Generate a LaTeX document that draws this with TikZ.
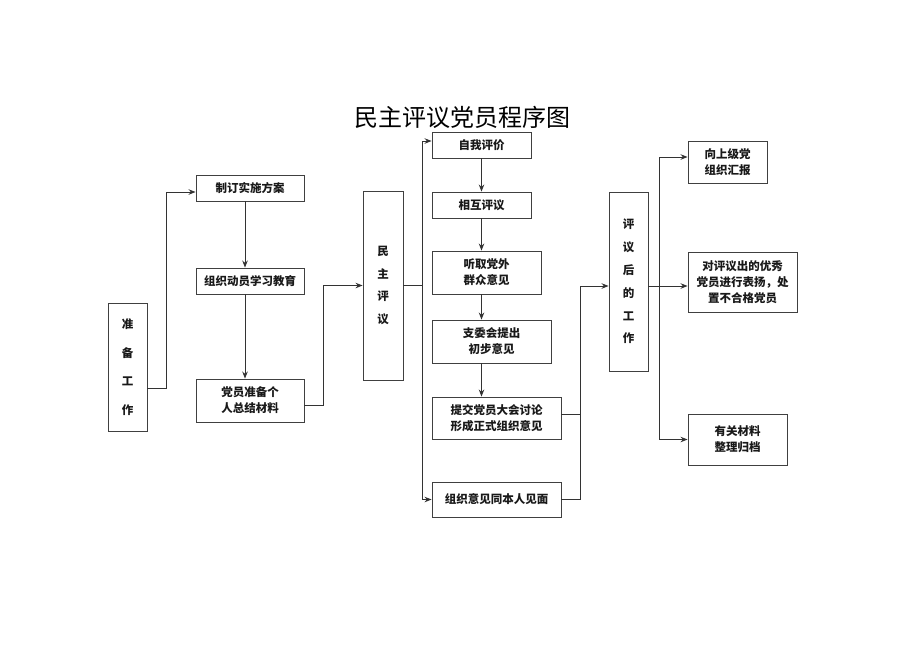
\documentclass[tikz,border=0pt]{standalone}
\usepackage{fontspec}
\setmainfont{Noto Sans CJK SC}
\usetikzlibrary{arrows.meta}
\tikzset{
  box/.style={draw=black!75, line width=0.9pt, inner sep=0pt, align=center,
    font=\bfseries\fontsize{11.5}{16}\selectfont, text=black!90},
  arr/.style={draw=black!80, line width=1pt, -{Stealth[length=7pt,width=5.5pt]}},
  ln/.style={draw=black!80, line width=1pt},
}
\begin{document}
\begin{tikzpicture}[x=1pt,y=-1pt]
\useasboundingbox (0,0) rectangle (920,651);
% title
\node[font=\fontsize{24}{28}\selectfont] (title) at (462,117) {民主评议党员程序图};
% left column
\node[box, minimum width=39pt, minimum height=128pt, font=\bfseries\fontsize{11.5}{28.5}\selectfont] (zb) at (127.5,367) {准\\备\\工\\作};
\node[box, minimum width=108pt, minimum height=26pt] (zd) at (250,188) {制订实施方案};
\node[box, minimum width=108pt, minimum height=26pt] (zz) at (250,281) {组织动员学习教育};
\node[box, minimum width=108pt, minimum height=43pt] (dy) at (250,400.5) {党员准备个\\人总结材料};
% middle
\node[box, minimum width=40pt, minimum height=189pt, font=\bfseries\fontsize{11.5}{22.5}\selectfont] (mz) at (383,285.5) {民\\主\\评\\议};
\node[box, minimum width=99pt, minimum height=26pt] (zw) at (481.5,145) {自我评价};
\node[box, minimum width=99pt, minimum height=26pt] (xh) at (481.5,205) {相互评议};
\node[box, minimum width=109pt, minimum height=43pt] (tq) at (486.5,272.5) {听取党外\\群众意见};
\node[box, minimum width=119pt, minimum height=43pt] (zwh) at (491.5,341.5) {支委会提出\\初步意见};
\node[box, minimum width=129pt, minimum height=42pt] (tj) at (496.5,418) {提交党员大会讨论\\形成正式组织意见};
\node[box, minimum width=129pt, minimum height=35pt] (jm) at (496.5,499.5) {组织意见同本人见面};
% right
\node[box, minimum width=39pt, minimum height=179pt, font=\bfseries\fontsize{11.5}{22.8}\selectfont] (py) at (628.5,281.5) {评\\议\\后\\的\\工\\作};
\node[box, minimum width=79pt, minimum height=42pt] (xs) at (727.5,162) {向上级党\\组织汇报};
\node[box, minimum width=109pt, minimum height=60pt] (dp) at (742.5,282) {对评议出的优秀\\党员进行表扬，处\\置不合格党员};
\node[box, minimum width=99pt, minimum height=51pt] (yg) at (737.5,439.5) {有关材料\\整理归档};
% connectors left
\draw[arr] ([yshift=-21pt]zb.east) -- ++(19,0) |- ([yshift=-4pt]zd.west);
\draw[arr] ([xshift=-5pt]zd.south) -- ([xshift=-5pt]zz.north);
\draw[arr] ([xshift=-5pt]zz.south) -- ([xshift=-5pt]dy.north);
\draw[arr] ([yshift=-4.5pt]dy.east) -- ++(19,0) |- (mz.west);
% middle
\draw[ln] (mz.east) -- ++(19,0) coordinate (m1);
\draw[arr] (m1) |- ([yshift=4pt]zw.west);
\draw[arr] (m1) |- (jm.west);
\draw[arr] (zw.south) -- (xh.north);
\draw[arr] (xh.south) -- (xh.south |- tq.north);
\draw[arr] (xh.south |- tq.south) -- (xh.south |- zwh.north);
\draw[arr] (xh.south |- zwh.south) -- (xh.south |- tj.north);
% to right
\draw[ln] ([yshift=4pt]tj.east) -- ++(19,0);
\draw[arr] (jm.east) -- ++(19,0) |- ([yshift=-4.5pt]py.west);
\draw[ln] ([yshift=-4.5pt]py.east) -- ++(11,0) coordinate (r1);
\draw[arr] (r1) |- ([yshift=5pt]xs.west);
\draw[arr] (r1) |- ([yshift=-4pt]dp.west);
\draw[arr] (r1) |- (yg.west);
\end{tikzpicture}
\end{document}
